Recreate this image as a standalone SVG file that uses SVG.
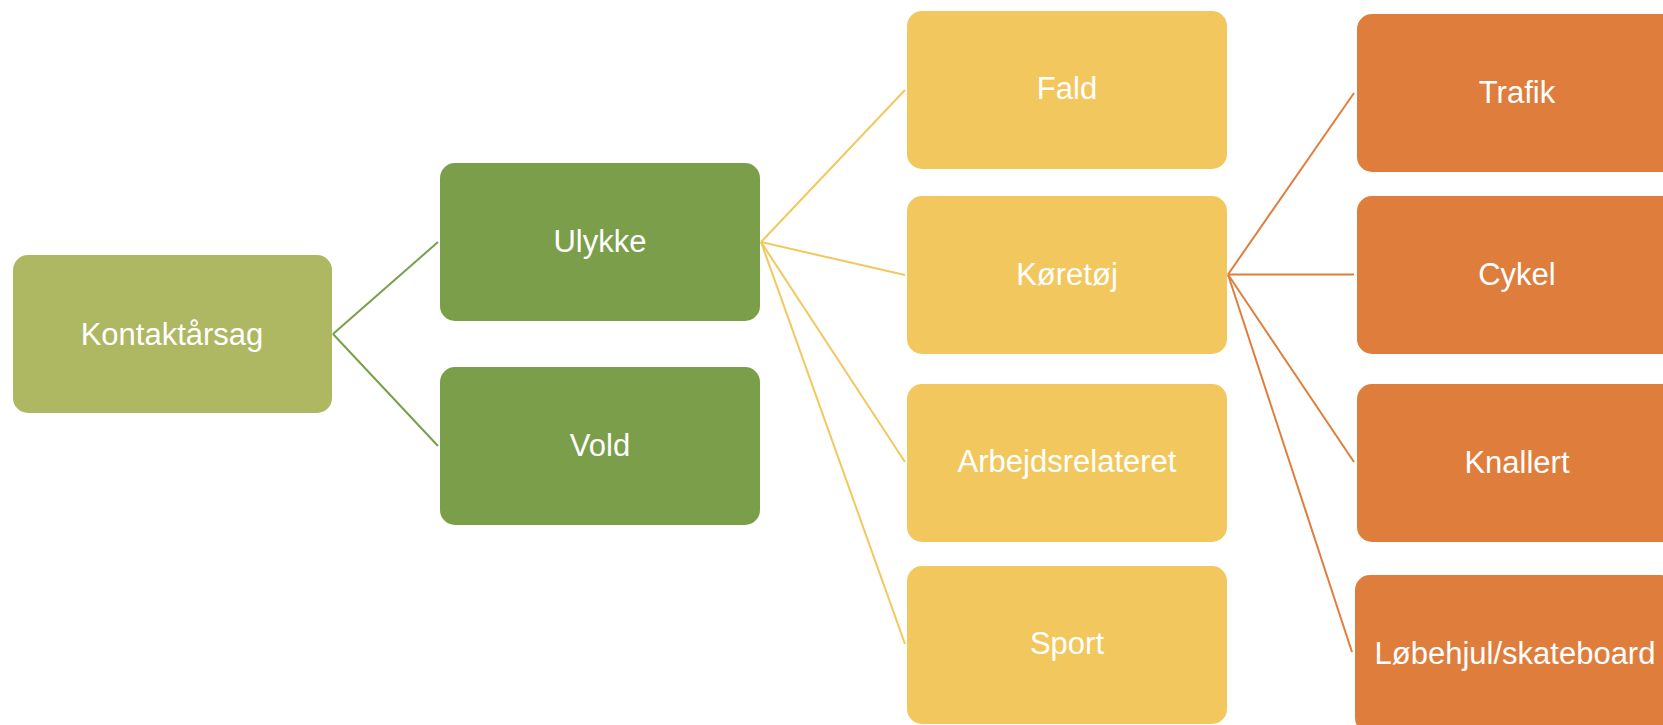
<svg xmlns="http://www.w3.org/2000/svg" width="1663" height="725" viewBox="0 0 1663 725">
<style>
.box{stroke:none}
.l1{fill:#AEB863}
.l2{fill:#7A9E4A}
.l3{fill:#F2C85E}
.l4{fill:#DF7E3C}
.t{font-family:"Liberation Sans",Arial,sans-serif;font-size:31px;fill:#FFFFFF;text-anchor:middle}
.c{fill:none;stroke-width:2}
.cg{stroke:#77A04A}
.cy{stroke:#F2C85E}
.co{stroke:#DF7E3C}
</style>
<rect width="1663" height="725" fill="#FFFFFF"/>
<g id="connectors">
<line class="c cg" x1="333" y1="334" x2="438" y2="242"/>
<line class="c cg" x1="333" y1="334" x2="438" y2="446"/>
<line class="c cy" x1="761" y1="242" x2="905" y2="90"/>
<line class="c cy" x1="761" y1="242" x2="905" y2="275"/>
<line class="c cy" x1="761" y1="242" x2="905" y2="462"/>
<line class="c cy" x1="761" y1="242" x2="905" y2="644"/>
<line class="c co" x1="1228" y1="274.5" x2="1354" y2="93"/>
<line class="c co" x1="1228" y1="274.5" x2="1354" y2="274.5"/>
<line class="c co" x1="1228" y1="274.5" x2="1354" y2="462"/>
<line class="c co" x1="1228" y1="274.5" x2="1352" y2="652"/>
</g>
<g id="kontaktarsag"><rect class="box l1" x="13" y="255" width="319" height="158" rx="15"/><text class="t" x="172" y="345">Kontaktårsag</text></g>
<g id="ulykke"><rect class="box l2" x="440" y="163" width="320" height="158" rx="15"/><text class="t" x="600" y="252">Ulykke</text></g>
<g id="vold"><rect class="box l2" x="440" y="367" width="320" height="158" rx="15"/><text class="t" x="600" y="456">Vold</text></g>
<g id="fald"><rect class="box l3" x="907" y="11" width="320" height="158" rx="15"/><text class="t" x="1067" y="99">Fald</text></g>
<g id="koretoj"><rect class="box l3" x="907" y="196" width="320" height="158" rx="15"/><text class="t" x="1067" y="285">Køretøj</text></g>
<g id="arbejdsrelateret"><rect class="box l3" x="907" y="384" width="320" height="158" rx="15"/><text class="t" x="1067" y="472">Arbejdsrelateret</text></g>
<g id="sport"><rect class="box l3" x="907" y="566" width="320" height="158" rx="15"/><text class="t" x="1067" y="654">Sport</text></g>
<g id="trafik"><rect class="box l4" x="1357" y="14" width="320" height="158" rx="15"/><text class="t" x="1517" y="103">Trafik</text></g>
<g id="cykel"><rect class="box l4" x="1357" y="196" width="320" height="158" rx="15"/><text class="t" x="1517" y="285">Cykel</text></g>
<g id="knallert"><rect class="box l4" x="1357" y="384" width="320" height="158" rx="15"/><text class="t" x="1517" y="473">Knallert</text></g>
<g id="lobehjul"><rect class="box l4" x="1355" y="575" width="320" height="158" rx="15"/><text class="t" x="1515" y="664">Løbehjul/skateboard</text></g>
</svg>
